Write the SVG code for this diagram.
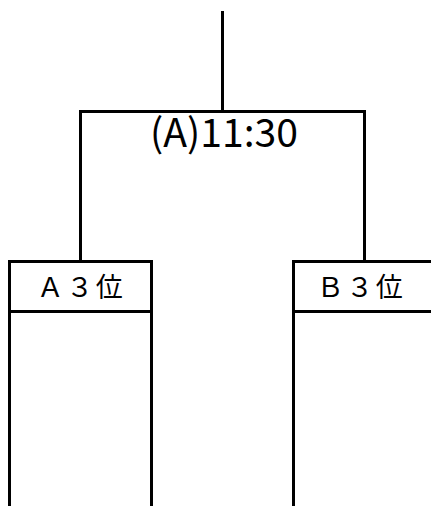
<svg xmlns="http://www.w3.org/2000/svg" width="431" height="506" viewBox="0 0 431 506">
<style>
.ln{stroke:#000;stroke-width:3;fill:none}
.t{font-family:"Noto Sans CJK JP","DejaVu Sans",sans-serif;fill:#000}
.lbl{font-size:27px;letter-spacing:2.5px}
</style>
<rect width="431" height="506" fill="#fff"/>
<g id="connectors">
<path class="ln" d="M222.5,11 V111.5 M80.5,111.5 H364.5 M80.5,110 V261 M364.5,110 V261"/>
</g>
<g id="match-time">
<text class="t" x="224" y="147" font-size="39" text-anchor="middle" textLength="148" lengthAdjust="spacingAndGlyphs">(A)11:30</text>
</g>
<g id="node-a3">
<path class="ln" d="M9.5,506 V261.5 H151.5 V506 M9.5,311.5 H151.5"/>
<text class="t lbl" x="81" y="297" text-anchor="middle">Ａ３位</text>
</g>
<g id="node-b3">
<path class="ln" d="M293.5,506 V261.5 H431 M293.5,311.5 H431"/>
<text class="t lbl" x="361" y="297" text-anchor="middle">Ｂ３位</text>
</g>
</svg>
